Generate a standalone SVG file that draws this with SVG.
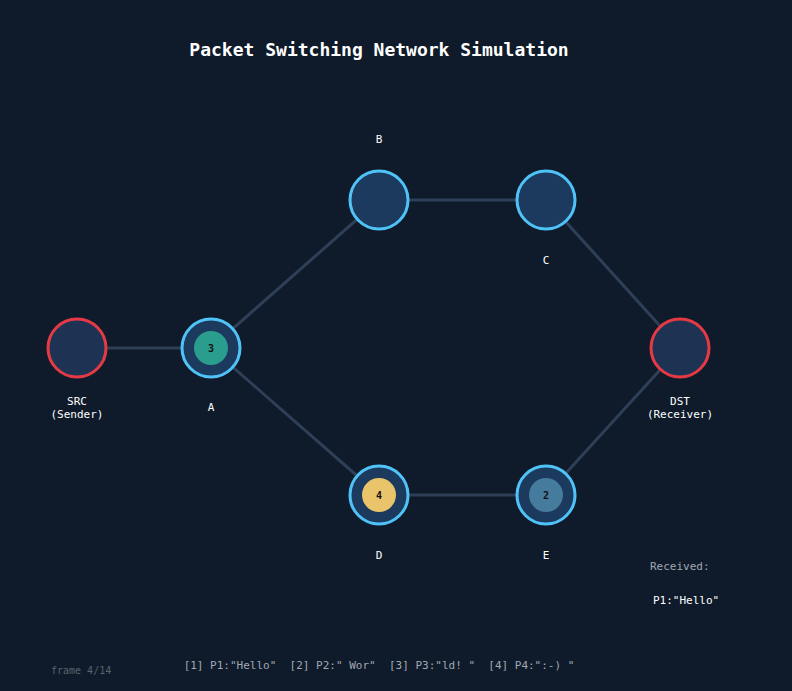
<svg xmlns="http://www.w3.org/2000/svg" width="792" height="691" viewBox="0 0 792 691">
<style>
text{font-family:"DejaVu Sans Mono","Liberation Mono",monospace;}
.lbl{fill:#ffffff;font-size:11px;text-anchor:middle;}
.edge{stroke:#2e3f57;stroke-width:3;fill:none;}
.router{fill:#1c3a5e;stroke:#4fc3f7;stroke-width:3;}
.host{fill:#1e3354;stroke:#e53a45;stroke-width:3;}
.pk{font-size:10px;font-weight:bold;fill:#111;text-anchor:middle;}
</style>
<rect width="792" height="691" fill="#0f1b2a"/>
<text x="379" y="56" font-size="18" font-weight="bold" fill="#ffffff" text-anchor="middle">Packet Switching Network Simulation</text>
<g id="connectors">
<line class="edge" x1="77" y1="348" x2="211" y2="348"/>
<line class="edge" x1="211" y1="348" x2="379" y2="200"/>
<line class="edge" x1="211" y1="348" x2="379" y2="495"/>
<line class="edge" x1="379" y1="200" x2="546" y2="200"/>
<line class="edge" x1="379" y1="495" x2="546" y2="495"/>
<line class="edge" x1="546" y1="200" x2="680" y2="348"/>
<line class="edge" x1="546" y1="495" x2="680" y2="348"/>
</g>
<g id="SRC"><circle class="host" cx="77" cy="348" r="29"/><text class="lbl" x="77" y="405">SRC</text><text class="lbl" x="77" y="418">(Sender)</text></g>
<g id="A"><circle class="router" cx="211" cy="348" r="29"/><circle cx="211" cy="348" r="17" fill="#2a9d8f"/><text class="pk" x="211" y="352">3</text><text class="lbl" x="211" y="411">A</text></g>
<g id="B"><circle class="router" cx="379" cy="200" r="29"/><text class="lbl" x="379" y="143">B</text></g>
<g id="C"><circle class="router" cx="546" cy="200" r="29"/><text class="lbl" x="546" y="264">C</text></g>
<g id="D"><circle class="router" cx="379" cy="495" r="29"/><circle cx="379" cy="495" r="17" fill="#e9c46a"/><text class="pk" x="379" y="499">4</text><text class="lbl" x="379" y="559">D</text></g>
<g id="E"><circle class="router" cx="546" cy="495" r="29"/><circle cx="546" cy="495" r="17" fill="#457b9d"/><text class="pk" x="546" y="499">2</text><text class="lbl" x="546" y="559">E</text></g>
<g id="DST"><circle class="host" cx="680" cy="348" r="29"/><text class="lbl" x="680" y="405">DST</text><text class="lbl" x="680" y="418">(Receiver)</text></g>
<text x="650" y="570" font-size="11" fill="#a0a8b3">Received:</text>
<text x="653" y="604" font-size="11" fill="#ffffff">P1:"Hello"</text>
<text x="51" y="674" font-size="10" fill="#5a636e">frame 4/14</text>
<text x="379" y="669" font-size="11" fill="#a0a8b3" text-anchor="middle" xml:space="preserve">[1] P1:"Hello"  [2] P2:" Wor"  [3] P3:"ld! "  [4] P4:":-) "</text>
</svg>
